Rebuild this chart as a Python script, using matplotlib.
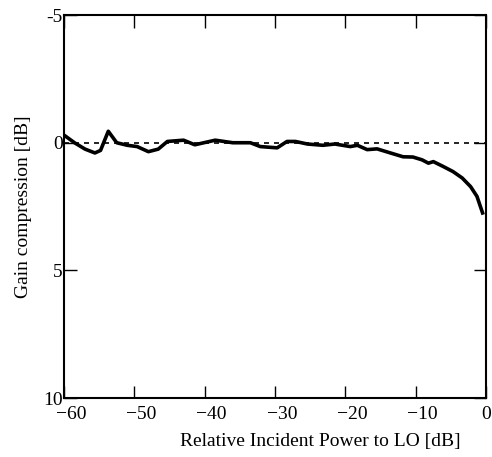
import matplotlib
matplotlib.use("Agg")
import matplotlib.pyplot as plt
import matplotlib.transforms as mtransforms

plt.rcParams['font.family'] = ['Liberation Serif', 'DejaVu Serif']

# measured gain compression vs relative incident power
power = [-60, -58.5, -57, -55.6, -54.8, -53.7, -52.5, -51, -49.6, -48, -46.6,
         -45.3, -43, -41.4, -38.5, -36, -33.5, -32.1, -29.7, -28.3, -27.1,
         -25.4, -23.2, -21.5, -19.3, -18.3, -16.9, -15.5, -13.6, -11.8, -10.4,
         -9.1, -8.2, -7.5, -6.1, -4.7, -3.4, -2.2, -1.3, -0.5]
compression = [-0.3, 0.0, 0.25, 0.4, 0.3, -0.45, 0.0, 0.1, 0.15, 0.35, 0.25,
               -0.05, -0.1, 0.08, -0.1, 0.0, 0.0, 0.15, 0.2, -0.05, -0.05,
               0.05, 0.1, 0.05, 0.15, 0.1, 0.27, 0.24, 0.4, 0.55, 0.56,
               0.67, 0.8, 0.74, 0.93, 1.13, 1.38, 1.72, 2.1, 2.75]

xticks = [-60, -50, -40, -30, -20, -10, 0]
xticklabels = ['\u221260', '\u221250', '\u221240', '\u221230', '\u221220', '\u221210', '0']
yticks = [-5, 0, 5, 10]
yticklabels = ['-5', '0', '5', '10']

fig = plt.figure(figsize=(4.92, 4.57), dpi=100)
ax = fig.add_axes([0.130, 0.129, 0.858, 0.838])

ax.axhline(0, color='black', linestyle=(0, (3, 3)), linewidth=1.2)
ax.plot(power, compression, color='black', linewidth=2.6)

ax.set_xlim(-60, 0)
ax.set_ylim(10, -5)
ax.set_xticks(xticks)
ax.set_xticklabels(xticklabels)
ax.set_yticks(yticks)
ax.set_yticklabels(yticklabels)

ax.tick_params(direction='in', length=9, width=1.0, top=True, right=True,
               labelsize=14)
ax.tick_params(axis='y', pad=1)
ax.tick_params(axis='x', pad=6)
for s in ax.spines.values():
    s.set_linewidth(1.5)

# x tick labels sit a little to the right of their ticks
shift = mtransforms.ScaledTranslation(7 / 100, 0, fig.dpi_scale_trans)
for lab in ax.get_xticklabels():
    if lab.get_text() != '0':
        lab.set_transform(lab.get_transform() + shift)

ax.set_xlabel('Relative Incident Power to LO [dB]', fontsize=14)
ax.xaxis.set_label_coords(0.607, -0.09)
ax.set_ylabel('Gain compression [dB]', fontsize=14, labelpad=8)

fig.savefig('out.png', dpi=100)
